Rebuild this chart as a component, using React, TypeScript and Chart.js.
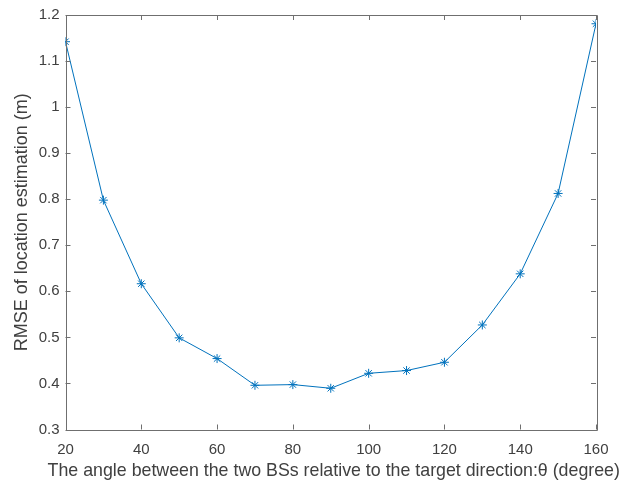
import React, { useEffect, useRef } from "react";
import { Chart, registerables } from "chart.js";

Chart.register(...registerables);

const angles = [20, 30, 40, 50, 60, 70, 80, 90, 100, 110, 120, 130, 140, 150, 160];
const rmse = [1.142, 0.798, 0.6165, 0.499, 0.454, 0.396, 0.3975, 0.3895, 0.422, 0.428, 0.446, 0.527, 0.638, 0.8125, 1.181];
const xTicks = [20, 40, 60, 80, 100, 120, 140, 160];
const yTicks = [0.3, 0.4, 0.5, 0.6, 0.7, 0.8, 0.9, 1, 1.1, 1.2];
const xTitle = "The angle between the two BSs relative to the target direction:\u03b8 (degree)";
const yTitle = "RMSE of location estimation (m)";

const AXIS_COLOR = "#6f6f6f";
const TEXT_COLOR = "#404040";
const LINE_COLOR = "#0072BD";
const FONT = "'Liberation Sans', Arial, Helvetica, sans-serif";

const boxPlugin = {
  id: "matlabBox",
  afterDatasetsDraw(chart: any) {
    const { ctx, chartArea } = chart;
    const { left, right, top, bottom } = chartArea;
    const xs = chart.scales.x;
    const ys = chart.scales.y;
    const L = 5;
    ctx.save();
    ctx.strokeStyle = AXIS_COLOR;
    ctx.lineWidth = 1;
    ctx.beginPath();
    ctx.rect(Math.round(left) + 0.5, Math.round(top) + 0.5, Math.round(right - left), Math.round(bottom - top));
    for (const v of xTicks) {
      const px = Math.round(xs.getPixelForValue(v)) + 0.5;
      ctx.moveTo(px, bottom);
      ctx.lineTo(px, bottom - L);
      ctx.moveTo(px, top);
      ctx.lineTo(px, top + L);
    }
    for (const v of yTicks) {
      const py = Math.round(ys.getPixelForValue(v)) + 0.5;
      ctx.moveTo(left, py);
      ctx.lineTo(left + L, py);
      ctx.moveTo(right, py);
      ctx.lineTo(right - L, py);
    }
    ctx.stroke();
    // x-axis title, centred under the plot area, drawn without width compression
    ctx.fillStyle = TEXT_COLOR;
    ctx.font = `17.8px ${FONT}`;
    ctx.textAlign = "center";
    ctx.textBaseline = "middle";
    ctx.fillText(xTitle, (left + right) / 2 + 3, 471);
    ctx.restore();
  },
};

export default function App() {
  const ref = useRef<HTMLCanvasElement | null>(null);
  useEffect(() => {
    if (!ref.current) return;
    const chart = new Chart(ref.current, {
      type: "line",
      data: {
        datasets: [
          {
            data: angles.map((a, i) => ({ x: a, y: rmse[i] })),
            borderColor: LINE_COLOR,
            backgroundColor: LINE_COLOR,
            borderWidth: 1,
            pointStyle: "star",
            pointRadius: 4.5,
            pointBorderWidth: 1,
            pointBorderColor: LINE_COLOR,
            tension: 0,
            fill: false,
          },
        ],
      },
      options: {
        animation: false,
        responsive: false,
        events: [],
        layout: { padding: { left: 0, right: 37, top: 12, bottom: 0 } },
        plugins: {
          legend: { display: false },
          tooltip: { enabled: false },
        },
        scales: {
          x: {
            type: "linear",
            min: 20,
            max: 160,
            afterBuildTicks: (s: any) => {
              s.ticks = xTicks.map((v) => ({ value: v }));
            },
            afterFit: (s: any) => {
              s.height = 51.5;
            },
            grid: { display: false, drawTicks: false },
            border: { display: false },
            ticks: {
              padding: 11,
              color: TEXT_COLOR,
              font: { family: FONT, size: 15 },
              maxRotation: 0,
              autoSkip: false,
            },
            title: { display: false, text: xTitle },
          },
          y: {
            type: "linear",
            min: 0.3,
            max: 1.2,
            afterBuildTicks: (s: any) => {
              s.ticks = yTicks.map((v) => ({ value: v }));
            },
            afterFit: (s: any) => {
              s.width = 65.5;
            },
            grid: { display: false, drawTicks: false },
            border: { display: false },
            ticks: {
              padding: 6,
              color: TEXT_COLOR,
              font: { family: FONT, size: 15 },
              autoSkip: false,
              callback: (v: any) => String(Math.round(Number(v) * 10) / 10),
            },
            title: {
              display: true,
              text: yTitle,
              color: TEXT_COLOR,
              font: { family: FONT, size: 18 },
              padding: { top: 11, bottom: 0 },
            },
          },
        },
      },
      plugins: [boxPlugin],
    });
    return () => chart.destroy();
  }, []);
  return (
    <div style={{ position: "absolute", left: 0, top: 0, width: 633, height: 481, background: "#fff" }}>
      <canvas ref={ref} width={633} height={481} style={{ display: "block" }} />
    </div>
  );
}
